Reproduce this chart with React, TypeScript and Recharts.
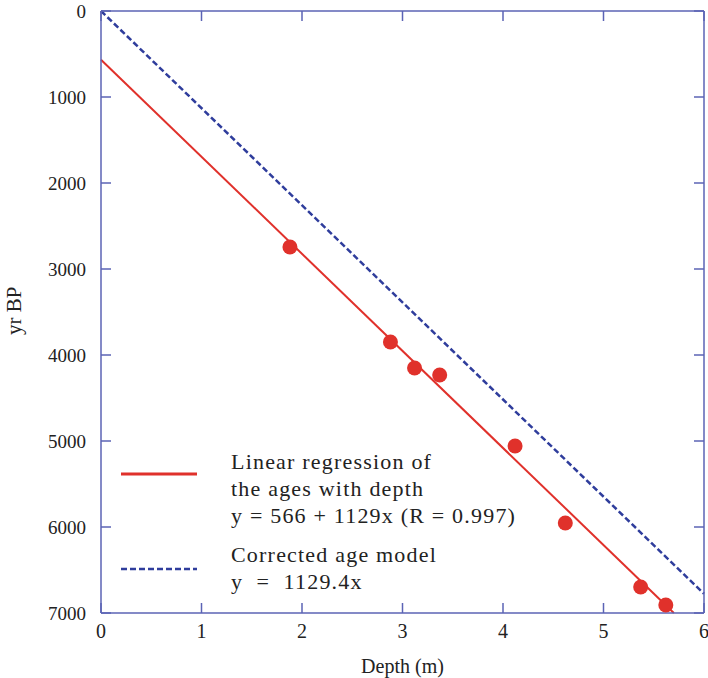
import { ComposedChart, Line, Scatter, XAxis, YAxis } from "recharts"

const depthM = [1.88, 2.88, 3.12, 3.37, 4.12, 4.62, 5.37, 5.62]
const ageYrBP = [2744, 3849, 4151, 4233, 5058, 5953, 6698, 6907]

// y = 566 + 1129x, drawn until it leaves the frame
const regressionDepth = [0, 5.7]
const regressionAge = [566, 7000]

// y = 1129.4x
const correctedDepth = [0, 6]
const correctedAge = [0, 6776]

const xTicks = [0, 1, 2, 3, 4, 5, 6]
const yTicks = [0, 1000, 2000, 3000, 4000, 5000, 6000, 7000]

const legendLines = [
  ["Linear regression of", "the ages with depth", "y = 566 + 1129x (R = 0.997)"],
  ["Corrected age model", "y  =  1129.4x"],
]

const points = depthM.map((x, i) => ({ x, y: ageYrBP[i] }))
const regression = regressionDepth.map((x, i) => ({ x, y: regressionAge[i] }))
const corrected = correctedDepth.map((x, i) => ({ x, y: correctedAge[i] }))

const RED = "#e0312b"
const BLUE = "#2f3d9c"
const FRAME = "#5b63b5"
const FONT = "'Liberation Serif', 'DejaVu Serif', serif"

const frameLine = { stroke: FRAME, strokeWidth: 1.5 }
const noLabel = () => <g />
const noMark = () => <g />

const LegendBox = () => (
  <div
    style={{
      position: "absolute",
      left: 121,
      top: 448,
      fontFamily: FONT,
      fontSize: 22,
      letterSpacing: 1.2,
      color: "#222",
      lineHeight: "27px",
    }}
  >
    {legendLines.map((lines, i) => (
      <div key={i} style={{ display: "flex", alignItems: "flex-start", marginBottom: i === 0 ? 12 : 0 }}>
        <svg width={76} height={4} style={{ marginRight: 34, marginTop: i === 0 ? 24 : 26 }}>
          <line
            x1={0}
            x2={76}
            y1={2}
            y2={2}
            stroke={i === 0 ? RED : BLUE}
            strokeWidth={i === 0 ? 3 : 2.5}
            strokeDasharray={i === 0 ? undefined : "6 3"}
          />
        </svg>
        <div>
          {lines.map((t) => (
            <div key={t} style={{ whiteSpace: "pre" }}>{t}</div>
          ))}
        </div>
      </div>
    ))}
  </div>
)

export default function App() {
  return (
    <div style={{ position: "absolute", left: 0, top: 0, width: 708, height: 678, background: "#fff" }}>
      <ComposedChart width={708} height={678} margin={{ top: 11, right: 4, bottom: 15, left: 41 }}>
        <XAxis
          xAxisId="b"
          type="number"
          dataKey="x"
          domain={[0, 6]}
          ticks={xTicks}
          interval={0}
          tickLine={false}
          tickSize={0}
          tickMargin={11}
          height={50}
          axisLine={frameLine}
          tick={{ fill: "#222", fontSize: 20, fontFamily: FONT }}
          label={{ value: "Depth (m)", position: "insideBottom", offset: -10, fill: "#222", fontSize: 20, fontFamily: FONT }}
        />
        <XAxis xAxisId="bm" type="number" dataKey="x" domain={[0, 6]} ticks={xTicks} interval={0} orientation="bottom" mirror tick={noLabel} tickSize={10} axisLine={false} tickLine={frameLine} height={10} />
        <XAxis xAxisId="t" type="number" dataKey="x" domain={[0, 6]} ticks={xTicks} interval={0} orientation="top" mirror tick={noLabel} tickSize={10} axisLine={frameLine} tickLine={frameLine} height={10} />
        <YAxis
          yAxisId="l"
          type="number"
          reversed
          domain={[0, 7000]}
          ticks={yTicks}
          interval={0}
          width={60}
          tickLine={false}
          tickSize={0}
          tickMargin={15}
          axisLine={frameLine}
          tick={{ fill: "#222", fontSize: 19, fontFamily: FONT }}
          label={{ value: "yr BP", angle: -90, position: "insideLeft", offset: 0, fill: "#222", fontSize: 21, fontFamily: FONT, dx: -27, dy: 23 }}
        />
        <YAxis yAxisId="lm" type="number" reversed domain={[0, 7000]} ticks={yTicks} interval={0} orientation="left" mirror tick={noLabel} tickSize={10} axisLine={false} tickLine={frameLine} width={10} />
        <YAxis yAxisId="r" type="number" reversed domain={[0, 7000]} ticks={yTicks} interval={0} orientation="right" mirror tick={noLabel} tickSize={10} axisLine={frameLine} tickLine={frameLine} width={10} />
        {/* invisible series so the tick-only frame axes get a scale */}
        <Scatter xAxisId="t" yAxisId="r" data={points} dataKey="y" shape={noMark} isAnimationActive={false} />
        <Scatter xAxisId="bm" yAxisId="lm" data={points} dataKey="y" shape={noMark} isAnimationActive={false} />
        <Line
          xAxisId="b"
          yAxisId="l"
          data={corrected}
          dataKey="y"
          stroke={BLUE}
          strokeWidth={2.5}
          strokeDasharray="6 3"
          dot={false}
          isAnimationActive={false}
        />
        <Line
          xAxisId="b"
          yAxisId="l"
          data={regression}
          dataKey="y"
          stroke={RED}
          strokeWidth={2}
          dot={false}
          isAnimationActive={false}
        />
        <Scatter
          xAxisId="b"
          yAxisId="l"
          data={points}
          dataKey="y"
          fill={RED}
          shape={(p: any) => <circle cx={p.cx} cy={p.cy} r={7.5} fill={RED} />}
          isAnimationActive={false}
        />
      </ComposedChart>
      <LegendBox />
    </div>
  )
}
